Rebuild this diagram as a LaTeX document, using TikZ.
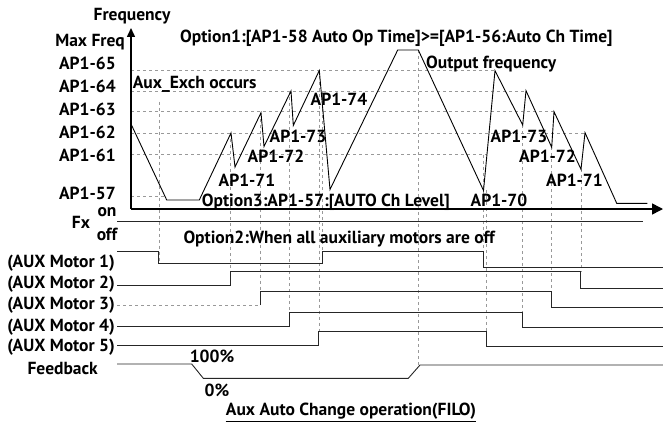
\documentclass[tikz,border=0pt]{standalone}
\usepackage{fontspec}
\setmainfont{PT Sans}
\usetikzlibrary{arrows.meta, calc, positioning}

\begin{document}
\begin{tikzpicture}[x=1pt, y=-1pt,
    lbl/.style={font=\bfseries\fontsize{17.5}{19}\selectfont, inner sep=0pt, anchor=base},
    axis/.style={line width=1.5pt},
    curve/.style={line width=0.9pt},
    signal/.style={line width=0.9pt, black!85},
    guide/.style={gray!80, line width=0.6pt, dash pattern=on 3pt off 3pt}]

    \useasboundingbox (0,0) rectangle (663,425);

    % guide lines
    \draw[guide] (131,70.5) -- (495,70.5);
    \draw[guide] (131,91) -- (526,91);
    \draw[guide] (131,111.7) -- (554,111.7);
    \draw[guide] (131,133) -- (585,133);
    \draw[guide] (131,154.5) -- (487,154.5);
    \draw[guide] (131,196) -- (166,196);
    \foreach \x/\ya/\yb in {159/101.7/263.3, 230.7/133/271.7, 260.3/112.7/291.7,
        289.5/91/312.3, 318.8/70.5/331.7, 322.5/91/251.7, 418.3/50/365,
        483.5/154.5/251.7, 486.5/190/331.7, 522.5/125/312.3, 551.7/147.3/291.7, 580.8/169.3/271.7}
        \draw[guide] (\x,\ya) -- (\x,\yb);

    % axes
    \coordinate (origin) at (131,209);
    \coordinate (ytip) at (131,28);
    \coordinate (xtip) at (663,209);
    \draw[axis, -{Triangle[length=9pt, width=8pt]}] (origin) -- (ytip);
    \draw[axis, -{Triangle[length=11pt, width=11pt]}] (origin) -- (xtip);

    % output frequency
    \draw[curve] (131,124) -- (166.7,200) -- (199.3,200) -- (231,133) -- (235,167)
        -- (261,112.7) -- (264,146.5) -- (291,91) -- (293.3,125.5) -- (319.3,70.5)
        -- (330,189.5) -- (397.7,50) -- (418.3,50) -- (483.5,190.5) -- (495,70.7)
        -- (522.7,125) -- (526,90.7) -- (551.7,147.3) -- (554,111.7) -- (581,169.3)
        -- (585,132.7) -- (616.7,203.3) -- (647.3,203.3);

    % signals
    \draw[signal] (117,221) -- (643,221);
    \draw[signal] (117,251) -- (158.7,251) -- (158.7,263.3) -- (322.5,263.3) -- (322.5,251.7)
        -- (483.3,251.7) -- (483.3,267) -- (663,267);
    \draw[signal] (117,285) -- (230.5,285) -- (230.5,271.7) -- (580.7,271.7) -- (580.7,288.3) -- (663,288.3);
    \draw[guide] (117,305) -- (260,305);
    \draw[signal] (260,305) -- (260,291.7) -- (551.7,291.7) -- (551.7,307.3) -- (663,307.3);
    \draw[signal] (117,326) -- (289.3,326) -- (289.3,312.3) -- (522.3,312.3) -- (522.3,327.3) -- (663,327.3);
    \draw[signal] (117,345.7) -- (318.7,345.7) -- (318.7,331.7) -- (486,331.7) -- (486,346.7) -- (663,346.7);
    \draw[signal] (117,364) -- (191.7,364) -- (203.3,378.3) -- (408.3,378.3) -- (420,365) -- (663,365);

    % axis labels
    \node[lbl] (freq) at (132,21) {Frequency};
    \node[lbl, anchor=base east] (maxfreq) at (125,47) {Max Freq};
    \node[lbl, anchor=base east] (ap65) at (116,69.3) {AP1-65};
    \node[lbl, anchor=base east] (ap64) at (116,92.7) {AP1-64};
    \node[lbl, anchor=base east] (ap63) at (116,115) {AP1-63};
    \node[lbl, anchor=base east] (ap62) at (116,139) {AP1-62};
    \node[lbl, anchor=base east] (ap61) at (116,161.7) {AP1-61};
    \node[lbl, anchor=base east] (ap57) at (116,199.3) {AP1-57};

    % curve labels
    \node[lbl, anchor=base west] (opt1) at (180,42.7) {Option1:[AP1-58 Auto Op Time]>=[AP1-56:Auto Ch Time]};
    \node[lbl, anchor=base west] (outfreq) at (426,69) {Output frequency};
    \node[lbl, anchor=base west] (exch) at (132.7,89) {Aux\_Exch occurs};
    \node[lbl] (l74) at (339,106) {AP1-74};
    \node[lbl] (l73) at (298,142.7) {AP1-73};
    \node[lbl] (l72) at (276,162) {AP1-72};
    \node[lbl] (l71) at (247,186) {AP1-71};
    \node[lbl] (r73) at (519,142) {AP1-73};
    \node[lbl] (r72) at (547.5,162.5) {AP1-72};
    \node[lbl] (r71) at (574.5,186) {AP1-71};
    \node[lbl, anchor=base west] (opt3) at (201.7,206.5) {Option3:AP1-57:[AUTO Ch Level]};
    \node[lbl] (l70) at (499,206.5) {AP1-70};

    % signal labels
    \node[lbl] (fx) at (81,228) {Fx};
    \node[lbl] (on) at (107,216.7) {on};
    \node[lbl] (off) at (107,240.7) {off};
    \node[lbl, anchor=base west] (opt2) at (183.3,243.3) {Option2:When all auxiliary motors are off};
    \node[lbl, anchor=base east] (aux1) at (115,267) {(AUX Motor 1)};
    \node[lbl, anchor=base east] (aux2) at (115,288) {(AUX Motor 2)};
    \node[lbl, anchor=base east] (aux3) at (115,309.5) {(AUX Motor 3)};
    \node[lbl, anchor=base east] (aux4) at (115,331) {(AUX Motor 4)};
    \node[lbl, anchor=base east] (aux5) at (115,351.5) {(AUX Motor 5)};
    \node[lbl] (full) at (212,362.7) {100\%};
    \node[lbl] (fb) at (62.7,374) {Feedback};
    \node[lbl] (zero) at (217,396) {0\%};
    \node[lbl] (title) at (351,415) {Aux Auto Change operation(FILO)};
    \draw[line width=0.9pt] (title.base west) ++(0,6.5) -- ($(title.base east)+(0,6.5)$);
\end{tikzpicture}
\end{document}
